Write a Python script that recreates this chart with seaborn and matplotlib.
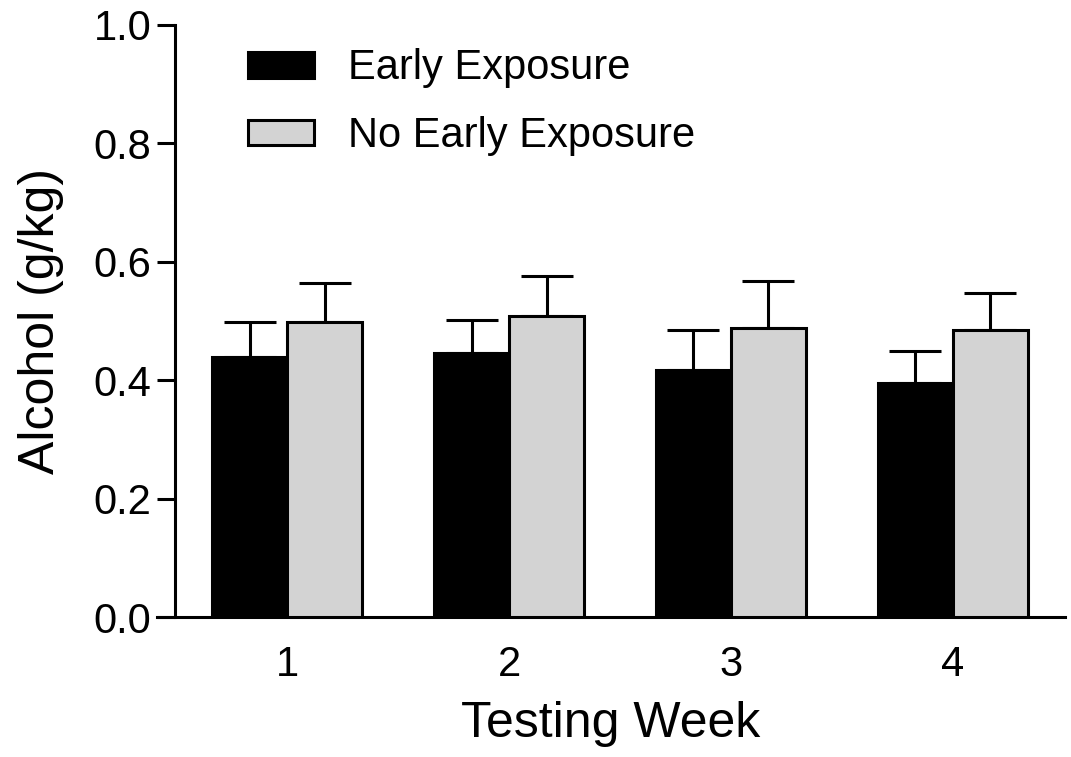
import matplotlib
matplotlib.use("Agg")
import matplotlib.pyplot as plt
import seaborn as sns
import pandas as pd
import numpy as np

weeks = ["1", "2", "3", "4"]
groups = ["Early Exposure", "No Early Exposure"]
early_mean = [0.440, 0.446, 0.418, 0.395]
early_sem = [0.058, 0.056, 0.066, 0.054]
noearly_mean = [0.498, 0.509, 0.489, 0.484]
noearly_sem = [0.067, 0.067, 0.078, 0.064]
colors = ["#000000", "#d3d3d3"]

df = pd.DataFrame({
    "Week": weeks * 2,
    "Group": [groups[0]] * 4 + [groups[1]] * 4,
    "Alcohol": early_mean + noearly_mean,
    "SEM": early_sem + noearly_sem,
})

sns.set_style("ticks")
plt.rcParams['font.family'] = ['Liberation Sans', 'DejaVu Sans']
plt.rcParams['text.color'] = 'black'
plt.rcParams['axes.labelcolor'] = 'black'
plt.rcParams['xtick.color'] = 'black'
plt.rcParams['ytick.color'] = 'black'

fig = plt.figure(figsize=(10.71, 7.57), dpi=100)
ax = fig.add_axes([0.1466, 0.1849, 0.9944 - 0.1466, 0.967 - 0.1849])

sns.barplot(data=df, x="Week", y="Alcohol", hue="Group", order=weeks,
            hue_order=groups, palette=colors, errorbar=None, width=0.676,
            edgecolor="black", linewidth=2.2, ax=ax, zorder=3)

# error bars (upward only) from bar positions
for gi, g in enumerate(groups):
    cont = ax.containers[gi]
    sems = early_sem if gi == 0 else noearly_sem
    means = early_mean if gi == 0 else noearly_mean
    xs = [p.get_x() + p.get_width() / 2 for p in cont.patches]
    ax.errorbar(xs, means, yerr=[np.zeros(4), sems], fmt="none",
                ecolor="black", elinewidth=2.2, capsize=19, capthick=2.2,
                zorder=2)

ax.set_xlim(-0.586, 3.505)
ax.set_ylim(0, 1.0)
ax.set_yticks([0.0, 0.2, 0.4, 0.6, 0.8, 1.0])
ax.set_yticklabels(["0.0", "0.2", "0.4", "0.6", "0.8", "1.0"])

ax.spines["left"].set_position(("data", -0.505))
ax.spines["right"].set_visible(False)
ax.spines["top"].set_visible(False)
for s in ["left", "bottom"]:
    ax.spines[s].set_linewidth(2.2)
    ax.spines[s].set_color("black")

ax.tick_params(axis="y", length=13, width=2.2, labelsize=30, pad=4, colors="black")
ax.tick_params(axis="x", length=0, labelsize=30, pad=20, colors="black")

ax.set_xlabel("Testing Week", fontsize=36, labelpad=12, color="black")
ax.set_ylabel("Alcohol (g/kg)", fontsize=36, labelpad=21, color="black")

leg = ax.legend(loc="upper left", bbox_to_anchor=(0.059, 1.024), frameon=False,
                fontsize=30, handlelength=1.58, handleheight=0.58,
                labelspacing=0.67, handletextpad=0.82)
for h in leg.legend_handles:
    h.set_edgecolor("black")
    h.set_linewidth(2.2)
for t in leg.get_texts():
    t.set_color("black")

fig.savefig("out.png", dpi=100)
